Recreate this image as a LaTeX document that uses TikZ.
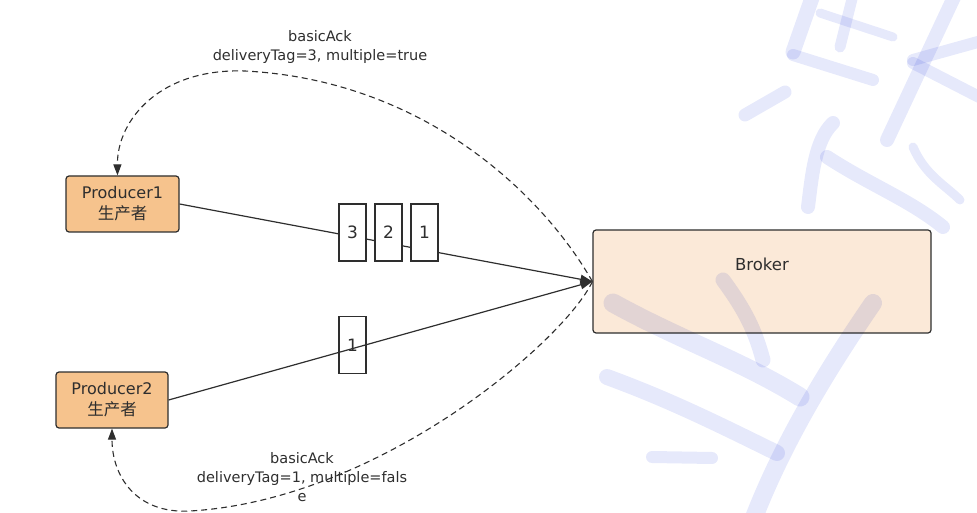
\documentclass[tikz,border=0pt]{standalone}
\usepackage{fontspec}
\setmainfont{DejaVu Sans}
\newfontfamily\cjk{Noto Sans CJK SC}
\usetikzlibrary{arrows.meta}
\definecolor{ink}{HTML}{2E2E2E}
\definecolor{prodfill}{HTML}{F6C38D}
\definecolor{brokerfill}{HTML}{FBE9D8}
\definecolor{wm}{RGB}{230,233,251}
\begin{document}
\begin{tikzpicture}[x=1pt,y=-1pt,
  every node/.style={text=ink},
  prod/.style={draw=ink, line width=1.2pt, rounded corners=3pt, fill=prodfill,
     align=center, inner sep=0pt, font=\fontsize{16}{21}\selectfont},
  brokerbox/.style={draw=ink, line width=1.2pt, rounded corners=3pt, fill=brokerfill,
     minimum width=338pt, minimum height=103pt, inner sep=0pt},
  msg/.style={draw=ink, line width=1.1pt, minimum width=27pt, minimum height=57pt,
     inner sep=0pt, font=\fontsize{17}{18}\selectfont},
  lbl/.style={align=center, inner sep=0pt, font=\fontsize{14.5}{19}\selectfont},
  flow/.style={draw=ink, line width=1.2pt, -{Triangle[length=12pt,width=9pt]}},
  ack/.style={draw=ink, line width=1.1pt, dash pattern=on 6pt off 4pt,
     -{Triangle[length=11pt,width=8pt]}},
  wmstroke/.style={wm, line cap=round, line join=round, blend mode=multiply}
]
\useasboundingbox (0,0) rectangle (977,513);

% nodes
\node[prod, minimum width=113pt, minimum height=56pt] (p1) at (122.5,204)
  {Producer1\\{\cjk\fontsize{16.5}{21}\selectfont 生产者}};
\node[prod, minimum width=112pt, minimum height=56pt] (p2) at (112,400)
  {Producer2\\{\cjk\fontsize{16.5}{21}\selectfont 生产者}};
\node[brokerbox] (broker) at (762,281.5) {};
\node[inner sep=0pt, font=\fontsize{16.5}{18}\selectfont] (brokerlbl)
  at ([yshift=17pt]broker.center) {Broker};

% lower message box (line passes over it)
\node[msg] (m4) at (352.5,345) {};

% flows
\draw[flow] (p1.east) -- (broker.west);
\draw[flow] (p2.east) -- (broker.west);

\node[inner sep=0pt, font=\fontsize{17}{18}\selectfont] (m4t) at (m4.center) {1};

% upper message boxes
\node[msg, fill=white] (m3) at (352.5,232.5) {3};
\node[msg, fill=white] (m2) at (388.5,232.5) {2};
\node[msg, fill=white] (m1) at (424.5,232.5) {1};

% acks
\coordinate (p1in) at ([xshift=-5pt]p1.north);
\coordinate (p2in) at ([xshift=0pt]p2.south);
\draw[ack] (broker.west) .. controls (540,190) and (420,80) .. (245,71)
   .. controls (160,68) and (117,120) .. (p1in);
\draw[ack] (broker.west) .. controls (565,340) and (380,500) .. (190,511)
   .. controls (135,514) and (112,475) .. (p2in);

\node[lbl] (ack1) at (320,47.5) {basicAck\\deliveryTag=3, multiple=true};
\node[lbl] (ack2) at (302,477) {basicAck\\deliveryTag=1, multiple=fals\\e};

% watermark
\begin{scope}[wmstroke]
 \draw[line width=15pt] (813,-5) -- (793,52);
 \draw[line width=12pt] (793,55) -- (873,80);
 \draw[line width=9pt] (820,13) -- (893,37);
 \draw[line width=11pt] (853,-5) -- (840,47);
 \draw[line width=14pt] (955,-5) -- (887,140);
 \draw[line width=12pt] (913,60) -- (985,40);
 \draw[line width=12pt] (913,63) -- (985,100);
 \draw[line width=13pt] (745,115) -- (785,92);
 \draw[line width=14pt] (833,123) .. controls (815,140) and (812,175) .. (808,207);
 \draw[line width=14pt] (827,157) .. controls (870,185) and (910,200) .. (943,227);
 \draw[line width=9pt] (913,147) .. controls (925,175) and (945,185) .. (960,200);
 \draw[line width=19pt] (613,303) .. controls (680,340) and (740,360) .. (800,397);
 \draw[line width=16pt] (607,377) .. controls (670,400) and (720,425) .. (777,453);
 \draw[line width=15pt] (723,280) .. controls (745,310) and (755,330) .. (763,360);
 \draw[line width=18pt] (873,303) .. controls (820,380) and (780,450) .. (753,520);
 \draw[line width=12pt] (652,457) -- (712,458);
\end{scope}
\end{tikzpicture}
\end{document}
